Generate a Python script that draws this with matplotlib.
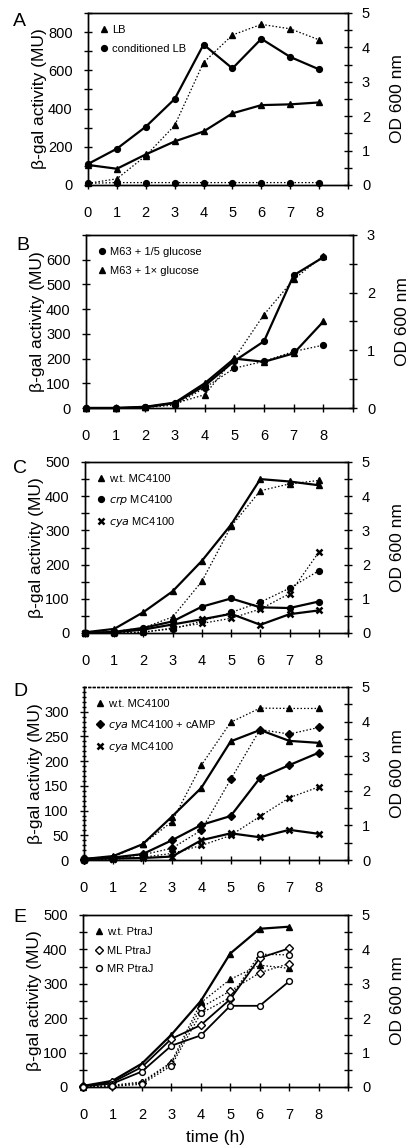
import matplotlib
matplotlib.use("Agg")
import matplotlib.pyplot as plt
from matplotlib.ticker import MultipleLocator, FixedLocator
from matplotlib.lines import Line2D

plt.rcParams['font.family'] = ['Liberation Sans', 'DejaVu Sans']

hours = [0, 1, 2, 3, 4, 5, 6, 7, 8]
hours_e = [0, 1, 2, 3, 4, 5, 6, 7]

# Panel A
a_lb_gal = [105, 85, 160, 228, 280, 375, 418, 422, 432]
a_cond_gal = [110, 190, 305, 450, 735, 610, 765, 670, 605]
a_lb_od = [0.05, 0.18, 0.85, 1.73, 3.56, 4.36, 4.67, 4.54, 4.22]
a_cond_od = [0.05, 0.07, 0.07, 0.07, 0.07, 0.07, 0.07, 0.07, 0.07]

# Panel B
b_low_gal = [0, 0, 3, 20, 90, 190, 270, 537, 610]
b_high_gal = [0, 0, 5, 22, 100, 200, 187, 221, 350]
b_low_od = [0, 0, 0.01, 0.05, 0.35, 0.69, 0.81, 0.98, 1.09]
b_high_od = [0, 0, 0.02, 0.08, 0.23, 0.86, 1.62, 2.23, 2.64]

# Panel C
c_wt_gal = [2, 12, 61, 122, 211, 317, 450, 443, 432]
c_crp_gal = [0, 3, 15, 34, 77, 101, 75, 73, 92]
c_cya_gal = [0, 2, 10, 25, 40, 56, 24, 55, 66]
c_wt_od = [0.0, 0.05, 0.15, 0.47, 1.51, 3.12, 4.16, 4.36, 4.46]
c_crp_od = [0.0, 0.0, 0.03, 0.12, 0.35, 0.6, 0.9, 1.31, 1.82]
c_cya_od = [0.0, 0.0, 0.02, 0.15, 0.28, 0.43, 0.7, 1.15, 2.36]

# Panel D
d_wt_gal = [2, 8, 32, 88, 146, 240, 263, 241, 237]
d_camp_gal = [2, 5, 12, 40, 71, 89, 166, 192, 217]
d_cya_gal = [2, 3, 4, 7, 40, 54, 46, 61, 53]
d_wt_od = [0.03, 0.1, 0.45, 1.11, 2.74, 3.98, 4.39, 4.38, 4.38]
d_camp_od = [0.0, 0.05, 0.15, 0.34, 0.86, 2.33, 3.77, 3.64, 3.83]
d_cya_od = [0.0, 0.02, 0.08, 0.19, 0.42, 0.71, 1.26, 1.8, 2.11]

# Panel E
e_wt_gal = [3, 18, 68, 152, 250, 388, 460, 466]
e_ml_gal = [3, 14, 58, 140, 180, 255, 375, 403]
e_mr_gal = [2, 10, 45, 120, 150, 236, 236, 307]
e_wt_od = [0.0, 0.05, 0.15, 0.72, 2.45, 3.13, 3.54, 3.45]
e_ml_od = [0.0, 0.03, 0.12, 0.68, 2.31, 2.79, 3.32, 3.59]
e_mr_od = [0.0, 0.02, 0.08, 0.62, 2.14, 2.6, 3.86, 3.84]

W, H = 413, 1148
fig = plt.figure(figsize=(W / 100, H / 100), dpi=100)

def px_axes(left, top, right, bottom):
    return fig.add_axes([left / W, 1 - bottom / H, (right - left) / W, (bottom - top) / H])

MS = 4.8
MSO = 4.2
MSD = 4.0
SOLID = dict(color='black', lw=1.6, markeredgecolor='black', clip_on=False, zorder=4)
DOT = dict(color='black', lw=0.9, linestyle=(0, (1.2, 1.6)), markeredgecolor='black', clip_on=False, zorder=4)

TICKFS = 10.5
LABFS = 12.5


def setup(ax, ax2, ymax, yminor, odmax, ylabels, letter, letter_xy):
    ax.set_xlim(0, 9)
    ax.set_ylim(0, ymax)
    ax2.set_ylim(0, odmax)
    ax.xaxis.set_major_locator(FixedLocator(list(range(0, 10))))
    ax.set_xticklabels([str(i) if i <= 8 else '' for i in range(0, 10)])
    ax.yaxis.set_major_locator(FixedLocator(ylabels))
    if yminor:
        ax.yaxis.set_minor_locator(MultipleLocator(yminor))
    ax2.yaxis.set_major_locator(MultipleLocator(1))
    ax2.yaxis.set_minor_locator(MultipleLocator(0.5))
    for a in (ax, ax2):
        a.tick_params(which='both', direction='inout', length=6, width=1, labelsize=TICKFS)
        for s in a.spines.values():
            s.set_linewidth(1.0)
    ax.tick_params(axis='y', pad=8)
    ax.tick_params(axis='x', pad=12)
    ax2.tick_params(axis='y', pad=7)
    ax.set_ylabel('β-gal activity (MU)', fontsize=LABFS, labelpad=1)
    ax2.set_ylabel('OD 600 nm', fontsize=LABFS, labelpad=14)
    fig.text(letter_xy[0] / W, 1 - letter_xy[1] / H, letter, fontsize=14, ha='left', va='center')


def legend(ax, handles, labels, fs=8):
    ax.legend(handles, labels, loc='upper left', frameon=False, fontsize=fs,
              handlelength=0.6, handletextpad=0.5, borderaxespad=0.7, labelspacing=0.75,
              bbox_to_anchor=(0.0, 1.0))


def h(marker, ms=MS, **kw):
    return Line2D([], [], color='black', marker=marker, lw=0, markersize=ms, **kw)

# ---------- A ----------
ax = px_axes(88, 13, 348, 185)
ax2 = ax.twinx()
ax.plot(hours, a_lb_gal, marker='^', markersize=MS, **SOLID)
ax.plot(hours, a_cond_gal, marker='o', markersize=MSO, **SOLID)
ax2.plot(hours, a_lb_od, marker='^', markersize=MS, **DOT)
ax2.plot(hours, a_cond_od, marker='o', markersize=MSO, **DOT)
setup(ax, ax2, 900, 100, 5, [0, 200, 400, 600, 800], 'A', (13, 22))
legend(ax, [h('^'), h('o', ms=MSO)], ['LB', 'conditioned LB'])

# ---------- B ----------
ax = px_axes(86, 235, 353, 408)
ax2 = ax.twinx()
ax.plot(hours, b_low_gal, marker='o', markersize=MSO, **SOLID)
ax.plot(hours, b_high_gal, marker='^', markersize=MS, **SOLID)
ax2.plot(hours, b_low_od, marker='o', markersize=MSO, **DOT)
ax2.plot(hours, b_high_od, marker='^', markersize=MS, **DOT)
setup(ax, ax2, 700, None, 3, [0, 100, 200, 300, 400, 500, 600, 700], 'B', (16, 245))
ax.set_yticklabels(['0', '100', '200', '300', '400', '500', '600', ''])
legend(ax, [h('o', ms=MSO), h('^')], ['M63 + 1/5 glucose', 'M63 + 1× glucose'])

# ---------- C ----------
ax = px_axes(85, 462, 348, 633)
ax2 = ax.twinx()
ax.plot(hours, c_wt_gal, marker='^', markersize=MS, **SOLID)
ax.plot(hours, c_crp_gal, marker='o', markersize=MSO, **SOLID)
ax.plot(hours, c_cya_gal, marker='x', markersize=MS, markeredgewidth=1.8, **SOLID)
ax2.plot(hours, c_wt_od, marker='^', markersize=MS, **DOT)
ax2.plot(hours, c_crp_od, marker='o', markersize=MSO, **DOT)
ax2.plot(hours, c_cya_od, marker='x', markersize=MS, markeredgewidth=1.8, **DOT)
setup(ax, ax2, 500, 50, 5, [0, 100, 200, 300, 400, 500], 'C', (13, 469))
legend(ax, [h('^'), h('o', ms=MSO), h('x', markeredgewidth=1.8)],
       ['w.t. MC4100', r'$\it{crp}$ MC4100', r'$\it{cya}$ MC4100'])

# ---------- D ----------
ax = px_axes(84, 687, 348, 860)
ax2 = ax.twinx()
ax.plot(hours, d_wt_gal, marker='^', markersize=MS, **SOLID)
ax.plot(hours, d_camp_gal, marker='D', markersize=MSD, **SOLID)
ax.plot(hours, d_cya_gal, marker='x', markersize=MS, markeredgewidth=1.8, **SOLID)
ax2.plot(hours, d_wt_od, marker='^', markersize=MS, **DOT)
ax2.plot(hours, d_camp_od, marker='D', markersize=MSD, **DOT)
ax2.plot(hours, d_cya_od, marker='x', markersize=MS, markeredgewidth=1.8, **DOT)
setup(ax, ax2, 350, 10, 5, [0, 50, 100, 150, 200, 250, 300], 'D', (13, 692))
ax.tick_params(axis='y', which='minor', length=3)
for a in (ax, ax2):
    a.spines['top'].set_linestyle((0, (1.2, 2.0)))
legend(ax, [h('^'), h('D', ms=MSD), h('x', markeredgewidth=1.8)],
       ['w.t. MC4100', r'$\it{cya}$ MC4100 + cAMP', r'$\it{cya}$ MC4100'])

# ---------- E ----------
ax = px_axes(83, 915, 348, 1087)
ax2 = ax.twinx()
ax.plot(hours_e, e_wt_gal, marker='^', markersize=MS, **SOLID)
ax.plot(hours_e, e_ml_gal, marker='D', markersize=MSD, markerfacecolor='white', markeredgewidth=1.0,
        **{**SOLID, 'lw': 1.3})
ax.plot(hours_e, e_mr_gal, marker='o', markersize=MSO, markerfacecolor='white', markeredgewidth=1.0,
        **{**SOLID, 'lw': 1.3})
ax2.plot(hours_e, e_wt_od, marker='^', markersize=MS, **DOT)
ax2.plot(hours_e, e_ml_od, marker='D', markersize=MSD, markerfacecolor='white', markeredgewidth=1.0, **DOT)
ax2.plot(hours_e, e_mr_od, marker='o', markersize=MSO, markerfacecolor='white', markeredgewidth=1.0, **DOT)
setup(ax, ax2, 500, 50, 5, [0, 100, 200, 300, 400, 500], 'E', (13, 917))
ax.set_xlabel('time (h)', fontsize=LABFS, labelpad=6)
legend(ax, [h('^'), h('D', ms=MSD, markerfacecolor='white'), h('o', ms=MSO, markerfacecolor='white')],
       ['w.t. PtraJ', 'ML PtraJ', 'MR PtraJ'])

fig.savefig('out.png', dpi=100)
